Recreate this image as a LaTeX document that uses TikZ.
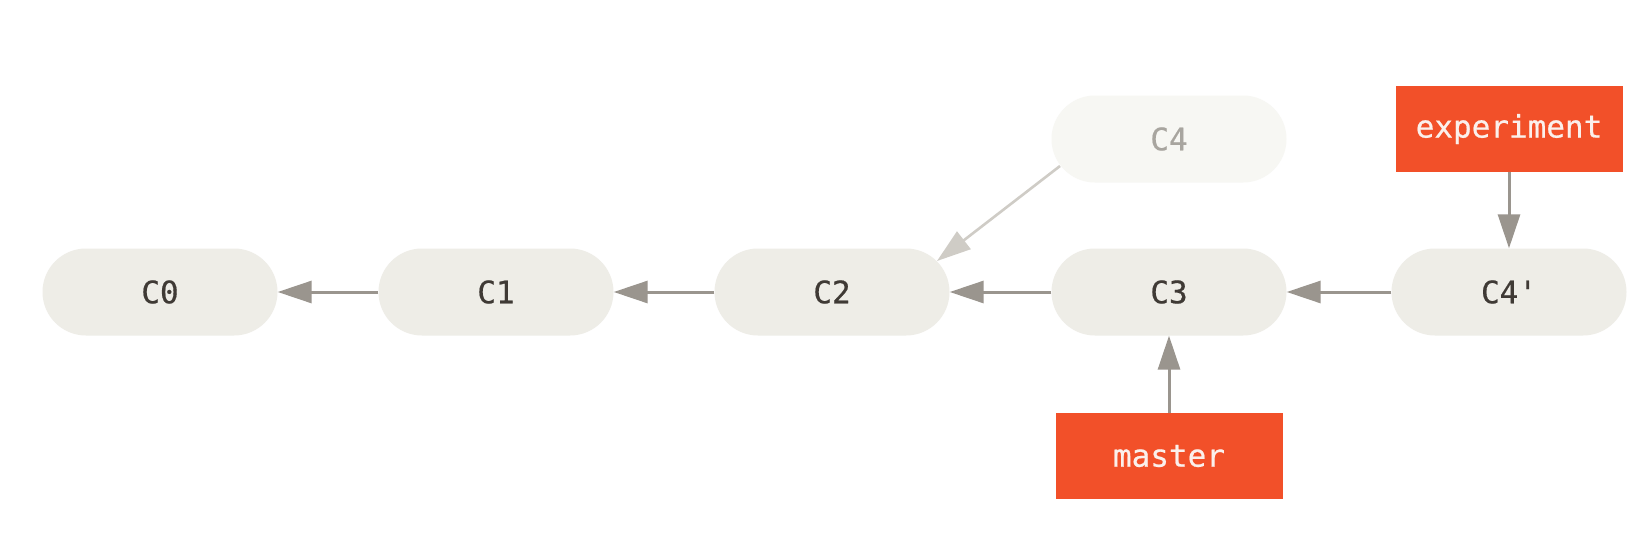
\documentclass[tikz,border=0pt]{standalone}
\usepackage{fontspec}
\newfontfamily\codefont[FakeBold=0.6]{DejaVu Sans Mono}
\usetikzlibrary{arrows.meta,calc}
\definecolor{pillfill}{HTML}{EEEDE7}
\definecolor{ghostfill}{HTML}{F7F7F3}
\definecolor{pilltext}{HTML}{3F3A35}
\definecolor{ghosttext}{HTML}{A8A59F}
\definecolor{arrowc}{HTML}{9A958E}
\definecolor{ghostarrow}{HTML}{CFCCC6}
\definecolor{branchred}{HTML}{F25029}
\definecolor{branchtext}{HTML}{FBF0EC}
\begin{document}
\begin{tikzpicture}[x=1pt,y=-1pt,
  commit/.style={rectangle,rounded corners=43.5pt,fill=pillfill,text=pilltext,
    minimum width=235pt,minimum height=87pt,inner sep=0pt,
    font=\codefont\fontsize{31}{36}\selectfont},
  ghost/.style={commit,fill=ghostfill,text=ghosttext},
  branch/.style={rectangle,fill=branchred,text=branchtext,
    minimum width=227pt,minimum height=86pt,inner sep=0pt,
    font=\codefont\fontsize{31}{36}\selectfont},
  arr/.style={draw=arrowc,line width=3pt,-{Triangle[length=34pt,width=22pt]}},
  ghostarr/.style={draw=ghostarrow,line width=2.6pt,-{Triangle[length=34pt,width=22pt]}}
]
\useasboundingbox (0,0) rectangle (1650,538);
\fill[white] (0,0) rectangle (1650,538);
\node[commit] (C0) at (160,292) {C0};
\node[commit] (C1) at (496,292) {C1};
\node[commit] (C2) at (832,292) {C2};
\node[commit] (C3) at (1169,292) {C3};
\node[commit] (C4p) at (1509,292) {C4'};
\node[ghost] (C4) at (1169,139) {C4};
\node[branch] (exp) at (1509,129) {experiment};
\node[branch] (master) at (1169,456) {master};
\draw[arr] (C1) -- (C0);
\draw[arr] (C2) -- (C1);
\draw[arr] (C3) -- (C2);
\draw[arr] (C4p) -- (C3);
\draw[arr] (exp) -- (C4p);
\draw[arr] (master) -- (C3);
\draw[ghostarr] ($(C4.center)+(-109,27)$) -- ($(C2.center)+(105,-31)$);
\end{tikzpicture}
\end{document}
